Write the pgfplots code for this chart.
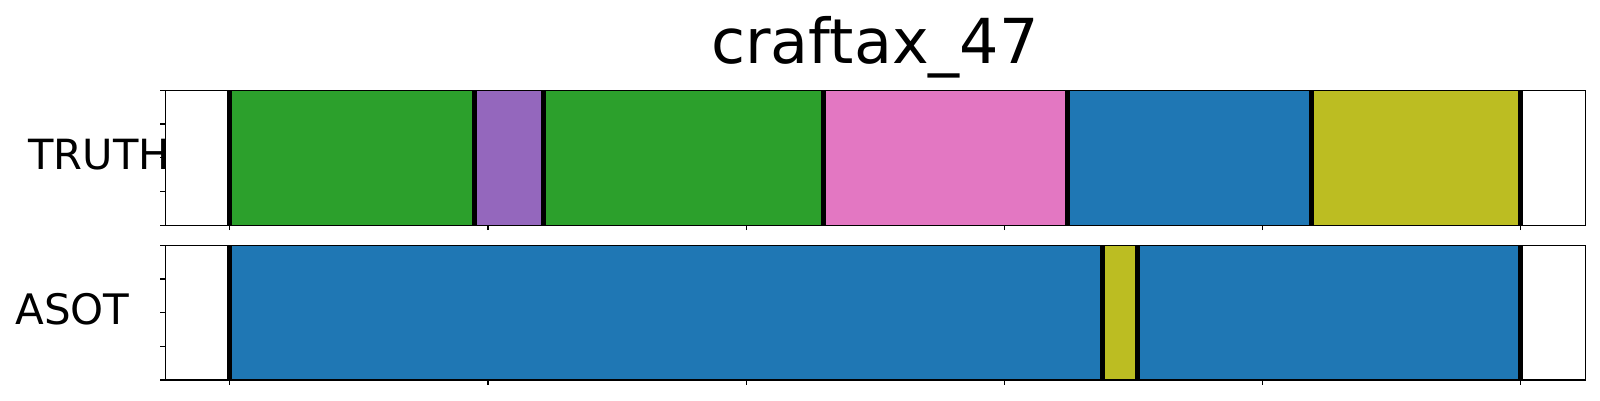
\documentclass[border=0pt]{standalone}
\usepackage{fontspec}
\setmainfont{DejaVu Sans}
\usepackage{pgfplots}
\pgfplotsset{compat=1.18}
\definecolor{tgreen}{HTML}{2CA02C}
\definecolor{tpurple}{HTML}{9467BD}
\definecolor{tpink}{HTML}{E377C2}
\definecolor{tblue}{HTML}{1F77B4}
\definecolor{tolive}{HTML}{BCBD22}
\pgfplotsset{seg/.style={
  scale only axis, width=355pt,
  xmin=-0.05, xmax=1.05, ymin=0, ymax=1,
  xtick={0,0.2,0.4,0.6,0.8,1}, ytick={0,0.25,0.5,0.75,1},
  xticklabels={}, yticklabels={},
  tick align=outside, major tick length=1.2pt, tick pos=left,
  axis line style={line width=0.35pt},
  every tick/.style={black, line width=0.3pt},
  axis on top, clip=false,
}}
\begin{document}
\begin{tikzpicture}
\useasboundingbox (0,0) rectangle (400pt,100pt);
\node[anchor=base, font=\fontsize{15.5pt}{18pt}\selectfont, inner sep=0pt] at (218.75pt,84.1pt) {craftax\_47};
\begin{axis}[seg, height=33.75pt, at={(41.325pt,43.675pt)}, anchor=south west]
\addplot[fill=tgreen, draw=none] coordinates {(0,1) (0.1892,1)} \closedcycle;
\addplot[fill=tpurple, draw=none] coordinates {(0.1892,1) (0.2429,1)} \closedcycle;
\addplot[fill=tgreen, draw=none] coordinates {(0.2429,1) (0.4597,1)} \closedcycle;
\addplot[fill=tpink, draw=none] coordinates {(0.4597,1) (0.6486,1)} \closedcycle;
\addplot[fill=tblue, draw=none] coordinates {(0.6486,1) (0.8376,1)} \closedcycle;
\addplot[fill=tolive, draw=none] coordinates {(0.8376,1) (1,1)} \closedcycle;
\addplot[ycomb, black, line width=1.25pt, mark=none] coordinates {(0,1) (0.1892,1) (0.2429,1) (0.4597,1) (0.6486,1) (0.8376,1) (1,1)};
\node[anchor=east, inner sep=0pt, font=\fontsize{10.4pt}{12pt}\selectfont, yshift=0.9pt, xshift=1.3pt] at (rel axis cs:0,0.5) {TRUTH};
\end{axis}
\begin{axis}[seg, height=33.675pt, at={(41.325pt,5pt)}, anchor=south west]
\addplot[fill=tblue, draw=none] coordinates {(0,1) (0.6757,1)} \closedcycle;
\addplot[fill=tolive, draw=none] coordinates {(0.6757,1) (0.7028,1)} \closedcycle;
\addplot[fill=tblue, draw=none] coordinates {(0.7028,1) (1,1)} \closedcycle;
\addplot[ycomb, black, line width=1.25pt, mark=none] coordinates {(0,1) (0.6757,1) (0.7028,1) (1,1)};
\node[anchor=center, inner sep=0pt, font=\fontsize{10.5pt}{12pt}\selectfont, yshift=0.9pt, xshift=0.4pt] at (rel axis cs:-0.0664,0.5) {ASOT};
\end{axis}
\end{tikzpicture}
\end{document}
